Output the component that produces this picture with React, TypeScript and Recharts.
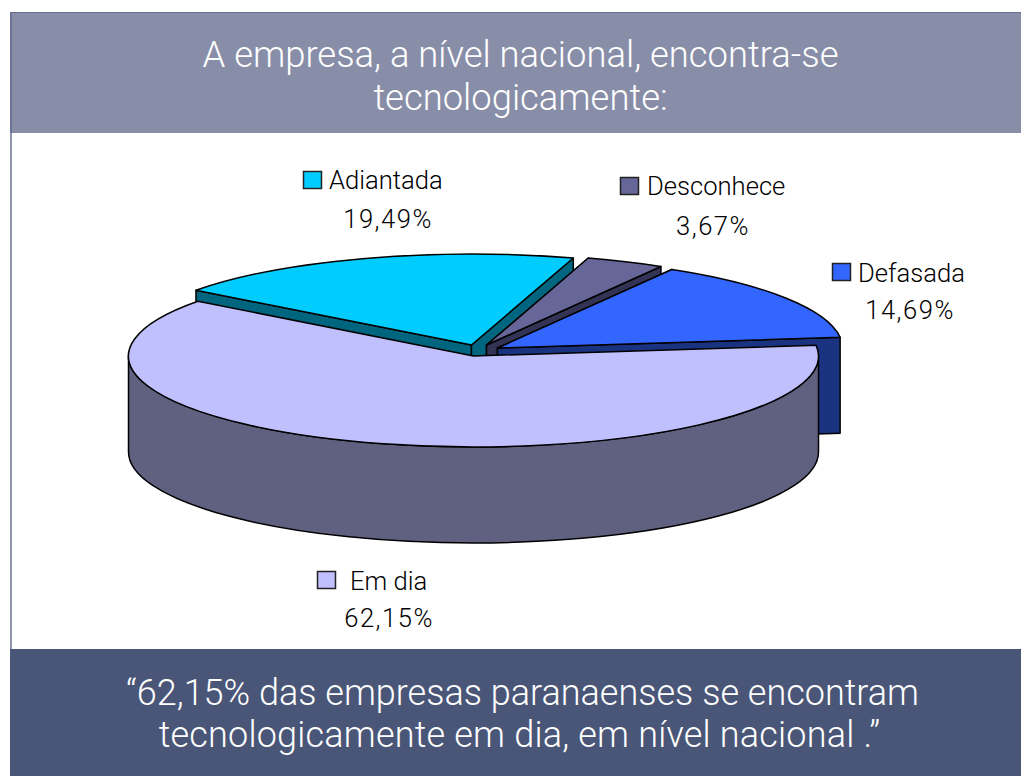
import { PieChart, Pie } from 'recharts';

const sliceNames = ['Adiantada', 'Desconhece', 'Defasada', 'Em dia'];
const sliceValues = [19.49, 3.67, 14.69, 62.15];
const sliceLabels = ['19,49%', '3,67%', '14,69%', '62,15%'];
const titleLines = ['A empresa, a nível nacional, encontra-se', 'tecnologicamente:'];
const footerLines = ['“62,15% das empresas paranaenses se encontram', 'tecnologicamente em dia, em nível nacional .”'];

const pieData = sliceNames.map((name, i) => ({ name, value: sliceValues[i], pct: sliceLabels[i] }));

const topColors = ['#00CCFF', '#666699', '#3366FF', '#C0C0FF'];
const sideColors = ['#006680', '#333355', '#1A3380', '#606080'];
// how far each wedge is pulled away from the pie centre, in pixels
const offsets = [
  [-2, -11],
  [13, -11],
  [24, -8],
  [0, 0],
];
// legend key and text anchor of each label
const labelPos = [
  { keyX: 303.5, keyY: 171.5, nameX: 329, nameY: 189, pctX: 388, pctY: 228 },
  { keyX: 620.5, keyY: 177.5, nameX: 647, nameY: 195, pctX: 713, pctY: 235 },
  { keyX: 832.5, keyY: 263.5, nameX: 858, nameY: 282, pctX: 910, pctY: 319 },
  { keyX: 317.5, keyY: 571.5, nameX: 350, nameY: 590, pctX: 389, pctY: 627 },
];

const RX = 345;
const RY = 91;
const DEPTH = 96;
const RAD = Math.PI / 180;

function Slice(props: any) {
  const { cx, cy, startAngle, endAngle, index } = props;
  const [ox, oy] = offsets[index];
  const ax = cx + ox;
  const ay = cy + oy;
  const px = (deg: number) => ax + RX * Math.cos(deg * RAD);
  const py = (deg: number) => ay - RY * Math.sin(deg * RAD);
  const x0 = px(startAngle);
  const y0 = py(startAngle);
  const x1 = px(endAngle);
  const y1 = py(endAngle);
  const large = Math.abs(startAngle - endAngle) > 180 ? 1 : 0;
  const stroke = { stroke: '#000', strokeWidth: 1.5, strokeLinejoin: 'round' as const };
  const side = sideColors[index];

  // flat side walls going down from the two cut edges
  const wall = (x: number, y: number) =>
    `M${ax},${ay}L${x},${y}L${x},${y + DEPTH}L${ax},${ay + DEPTH}Z`;

  // outer rim, only the part that faces the viewer (below the centre line)
  let rim = null;
  if (endAngle < -180 || startAngle > 180) {
    const rimFrom = Math.min(startAngle, 0);
    const rimTo = Math.max(endAngle, -180);
    if (rimFrom > rimTo) {
      const rx0 = px(rimFrom);
      const ry0 = py(rimFrom);
      const rx1 = px(rimTo);
      const ry1 = py(rimTo);
      rim = (
        <path
          d={`M${rx0},${ry0}A${RX},${RY} 0 0 1 ${rx1},${ry1}L${rx1},${ry1 + DEPTH}A${RX},${RY} 0 0 0 ${rx0},${ry0 + DEPTH}Z`}
          fill={side}
          {...stroke}
        />
      );
    }
  }

  return (
    <g>
      {index !== 3 && <path d={wall(x0, y0)} fill={side} {...stroke} />}
      {index !== 3 && <path d={wall(x1, y1)} fill={side} {...stroke} />}
      {rim}
      <path
        d={`M${ax},${ay}L${x0},${y0}A${RX},${RY} 0 ${large} 1 ${x1},${y1}Z`}
        fill={topColors[index]}
        {...stroke}
      />
    </g>
  );
}

function SliceLabel(props: any) {
  const { index } = props;
  const p = labelPos[index];
  return (
    <g fontFamily="Roboto" fontWeight={300} fontSize={25.6} fill="#000">
      <rect x={p.keyX} y={p.keyY} width={18} height={17} fill={topColors[index]} stroke="#222" strokeWidth={1.5} />
      <text x={p.nameX} y={p.nameY}>{sliceNames[index]}</text>
      <text x={p.pctX} y={p.pctY} textAnchor="middle" letterSpacing={1.5}>{sliceLabels[index]}</text>
    </g>
  );
}

const bannerText = {
  color: '#fff',
  fontFamily: 'Roboto',
  fontWeight: 300,
  textAlign: 'center' as const,
  whiteSpace: 'nowrap' as const,
};

export default function App() {
  return (
    <div style={{ position: 'absolute', left: 0, top: 0, width: 1021, height: 776, background: '#fff', overflow: 'hidden' }}>
      <div style={{ position: 'absolute', left: 10, top: 133, width: 2, height: 516, background: '#8E94AE' }} />
      <div style={{ ...bannerText, position: 'absolute', left: 10, top: 12, width: 1011, height: 121, background: '#888EA8', borderTop: '1px solid #666E90', borderLeft: '2px solid #6E7594', fontSize: 36.4, lineHeight: '43px', paddingTop: 20, paddingLeft: 8, boxSizing: 'border-box' }}>
        {titleLines.map((t) => <div key={t}>{t}</div>)}
      </div>
      <div style={{ ...bannerText, position: 'absolute', left: 10, top: 649, width: 1011, height: 127, background: '#4A5677', fontSize: 36, lineHeight: '42px', paddingTop: 23, paddingLeft: 14, boxSizing: 'border-box' }}>
        <div>{footerLines[0]}</div>
        <div style={{ letterSpacing: 0.2, marginLeft: -6 }}>{footerLines[1]}</div>
      </div>
      <div style={{ position: 'absolute', left: 0, top: 0 }}>
        <PieChart width={1021} height={776} margin={{ top: 0, right: 0, bottom: 0, left: 0 }}>
          <Pie
            data={pieData}
            dataKey="value"
            nameKey="name"
            cx={473.5}
            cy={356}
            innerRadius={0}
            outerRadius={RX}
            startAngle={143}
            endAngle={-217}
            paddingAngle={0}
            isAnimationActive={false}
            shape={Slice}
            label={SliceLabel}
            labelLine={false}
          />
        </PieChart>
      </div>
    </div>
  );
}
